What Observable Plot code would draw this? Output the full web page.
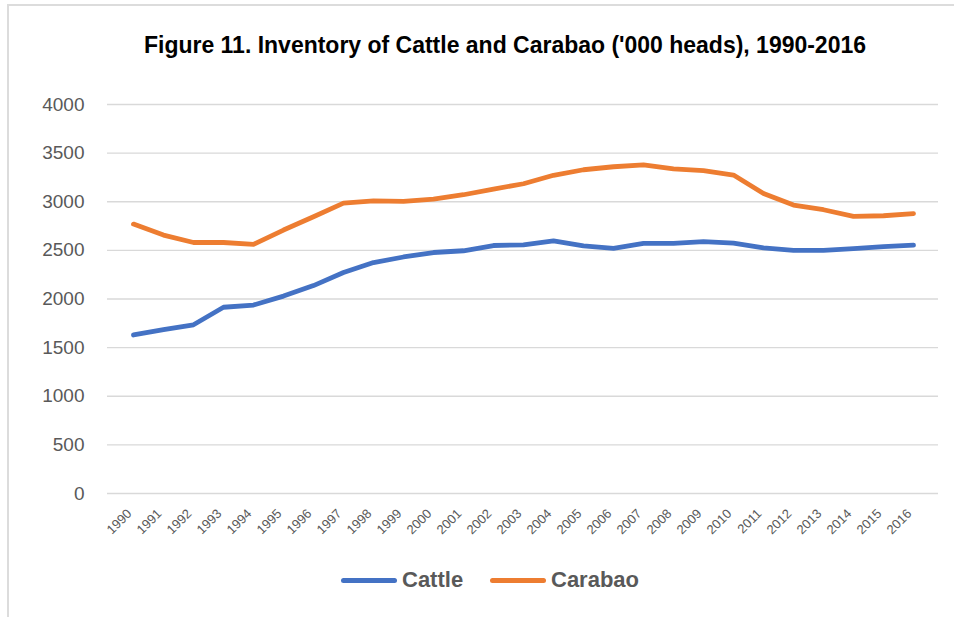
<!DOCTYPE html>
<html>
<head>
<meta charset="utf-8">
<script src="https://cdn.jsdelivr.net/npm/d3@7"></script>
<script src="https://cdn.jsdelivr.net/npm/@observablehq/plot@0.6"></script>
<style>
  html, body { margin: 0; padding: 0; background: #fff; }
  #wrap { position: relative; width: 954px; height: 617px; overflow: hidden; font-family: "Liberation Sans", Arial, sans-serif; }
  #frameTop { position: absolute; left: 8px; top: 4px; width: 946px; height: 0; border-top: 2px solid #dcdcdc; }
  #frameLeft { position: absolute; left: 7px; top: 4px; width: 0; height: 613px; border-left: 2px solid #dcdcdc; }
  #title { position: absolute; left: 144px; top: 31px; font-family: "Liberation Sans", Arial, sans-serif; font-weight: bold; font-size: 24px; line-height: normal; color: #000; white-space: nowrap; transform-origin: 0 0; }
  #chart { position: absolute; left: 0; top: 60px; }
  #legend { position: absolute; left: 0; top: 565px; width: 954px; height: 30px; }
  .item { position: absolute; top: 0; display: flex; align-items: center; height: 30px; font-weight: bold; font-size: 22px; color: #595959; }
  .sw { width: 56px; height: 5px; border-radius: 3px; margin-right: 5px; }
</style>
</head>
<body>
<div id="wrap">
  <div id="frameTop"></div>
  <div id="frameLeft"></div>
  <span id="title">Figure 11. Inventory of Cattle and Carabao ('000 heads), 1990-2016</span>
  <div id="chart"></div>
  <div id="legend"></div>
</div>
<script>
const years = ["1990","1991","1992","1993","1994","1995","1996","1997","1998","1999","2000","2001","2002","2003","2004","2005","2006","2007","2008","2009","2010","2011","2012","2013","2014","2015","2016"];
const cattle = [1630,1686,1735,1915,1938,2030,2138,2272,2375,2432,2478,2496,2550,2557,2598,2547,2520,2571,2571,2590,2575,2525,2499,2500,2517,2538,2554];
const carabao = [2770,2657,2581,2581,2562,2709,2846,2986,3010,3003,3027,3072,3130,3185,3272,3329,3360,3380,3339,3319,3275,3085,2966,2918,2849,2856,2877];
const seriesNames = ["Cattle","Carabao"];
const seriesColors = ["#4472C4","#ED7D31"];
const yTicks = [0,500,1000,1500,2000,2500,3000,3500,4000];

// fit title to reference width
const title = document.getElementById("title");
const tw = title.getBoundingClientRect().width;
title.style.transform = `scaleX(${722 / tw})`;

const rows = [];
years.forEach((y, i) => {
  rows.push({year: y, value: cattle[i], series: "Cattle"});
  rows.push({year: y, value: carabao[i], series: "Carabao"});
});

const chart = Plot.plot({
  width: 954,
  height: 500,
  marginLeft: 107,
  marginRight: 16,
  marginTop: 44,
  marginBottom: 67,
  style: { fontFamily: "Liberation Sans, Arial, sans-serif", background: "transparent" },
  x: { type: "point", domain: years, padding: 0.5, label: null, axis: null },
  y: { domain: [0, 4000], ticks: yTicks, label: null },
  color: { domain: seriesNames, range: seriesColors },
  marks: [
    Plot.ruleY(yTicks, { stroke: "#d9d9d9", strokeWidth: 1.3 }),
    Plot.axisY({ ticks: yTicks, tickSize: 0, tickPadding: 23, fontSize: 19, color: "#595959", label: null, tickFormat: d3.format("d") }),
    Plot.text(years, { x: d => d, frameAnchor: "bottom", rotate: -45, textAnchor: "end", lineAnchor: "middle", dx: -4, dy: 18, fontSize: 13, fill: "#595959" }),
    Plot.line(rows, { x: "year", y: "value", z: "series", stroke: "series", strokeWidth: 4.8, strokeLinecap: "round", strokeLinejoin: "round" })
  ]
});
document.getElementById("chart").appendChild(chart);

const legend = document.getElementById("legend");
const lefts = [341, 490];
seriesNames.forEach((n, i) => {
  const it = document.createElement("div");
  it.className = "item";
  it.style.left = lefts[i] + "px";
  const sw = document.createElement("div");
  sw.className = "sw";
  sw.style.background = seriesColors[i];
  it.appendChild(sw);
  const t = document.createElement("span");
  t.textContent = n;
  it.appendChild(t);
  legend.appendChild(it);
});
</script>
</body>
</html>
